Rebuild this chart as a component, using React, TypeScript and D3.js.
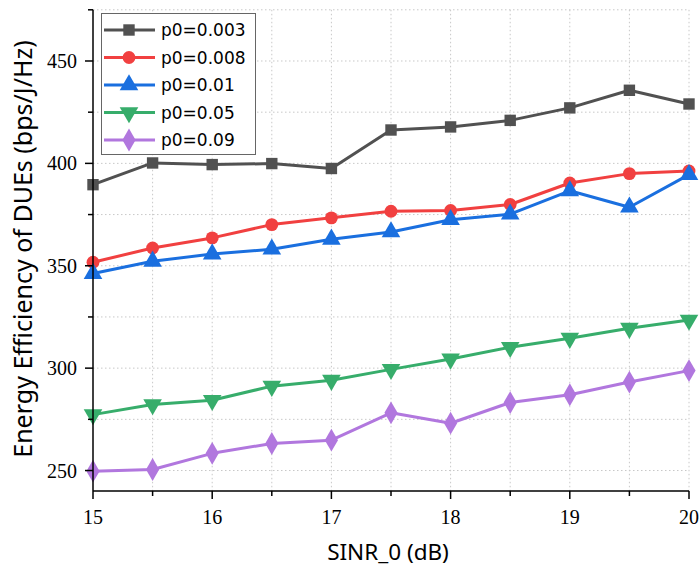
import React from 'react';
import * as d3 from 'd3';

const sinr = [15, 15.5, 16, 16.5, 17, 17.5, 18, 18.5, 19, 19.5, 20];
const seriesNames = ['p0=0.003', 'p0=0.008', 'p0=0.01', 'p0=0.05', 'p0=0.09'];
const p0003 = [389.6, 400.2, 399.4, 399.9, 397.5, 416.3, 417.8, 421, 427.1, 435.7, 429];
const p0008 = [351.7, 358.7, 363.6, 370.1, 373.4, 376.6, 377, 379.9, 390.4, 395, 396.3];
const p001 = [346.2, 352.2, 355.7, 358.1, 362.9, 366.5, 372.5, 375.2, 386.6, 378.6, 394.5];
const p005 = [277.3, 282.2, 284.3, 291.2, 294.1, 299.4, 304.5, 310.2, 314.6, 319.5, 323.5];
const p009 = [249.7, 250.5, 258.4, 263.2, 264.8, 278.2, 273.1, 283.2, 287, 293.2, 298.8];
const xTicks = [15, 16, 17, 18, 19, 20];
const yTicks = [250, 300, 350, 400, 450];

const colors = ['#515151', '#F14040', '#1A6FDF', '#37AD6B', '#B177DE'];
const symbols = [d3.symbolSquare, d3.symbolCircle, d3.symbolTriangle, d3.symbolTriangle, d3.symbolDiamond];
const symSizes = [130, 130, 150, 150, 150];
const rotations = [0, 0, 0, 180, 0];

const W = 700;
const H = 566;
const left = 93;
const right = 689;
const top = 9.8;
const bottom = 491;

export default function App() {
  const x = d3.scaleLinear().domain([15, 20]).range([left, right]);
  const y = d3.scaleLinear().domain([240, 475]).range([bottom, top]);
  const allSeries = [p0003, p0008, p001, p005, p009];
  const line = d3.line<number>().x((_, i) => x(sinr[i])).y((d) => y(d));
  const xGrid = d3.range(15.5, 20.01, 0.5);
  const yGrid = d3.range(250, 476, 25);
  const xMinor = d3.range(15.5, 20, 1);
  const yMinor = d3.range(275, 476, 50);
  const sans = 'Noto Sans, Open Sans, sans-serif';

  const marker = (k: number, cx: number, cy: number, key: string | number) => (
    <path
      key={key}
      d={d3.symbol(symbols[k], symSizes[k])() || ''}
      transform={`translate(${cx},${cy}) rotate(${rotations[k]})`}
      fill={colors[k]}
    />
  );

  return (
    <svg width={W} height={H} style={{ position: 'absolute', left: 0, top: 0, background: '#fff' }}>
      {/* grid */}
      <g stroke="#c8c8c8" strokeWidth={1} strokeDasharray="1.5,2.5">
        {xGrid.map((v) => (
          <line key={'gx' + v} x1={x(v)} x2={x(v)} y1={top} y2={bottom} />
        ))}
        {yGrid.map((v) => (
          <line key={'gy' + v} x1={left} x2={right} y1={y(v)} y2={y(v)} />
        ))}
      </g>

      {/* series */}
      {allSeries.map((s, k) => (
        <g key={k}>
          <path d={line(s) || ''} fill="none" stroke={colors[k]} strokeWidth={3} strokeLinejoin="round" />
          {s.map((v, i) => marker(k, x(sinr[i]), y(v), i))}
        </g>
      ))}

      {/* axes */}
      <g stroke="#000" strokeWidth={1.5}>
        <line x1={left} x2={left} y1={top} y2={bottom} />
        <line x1={left} x2={right} y1={bottom} y2={bottom} />
        {xTicks.map((v) => (
          <line key={'xt' + v} x1={x(v)} x2={x(v)} y1={bottom} y2={bottom + 8} />
        ))}
        {xMinor.map((v) => (
          <line key={'xm' + v} x1={x(v)} x2={x(v)} y1={bottom} y2={bottom + 5} />
        ))}
        {yTicks.map((v) => (
          <line key={'yt' + v} x1={left - 8} x2={left} y1={y(v)} y2={y(v)} />
        ))}
        {yMinor.map((v) => (
          <line key={'ym' + v} x1={left - 5} x2={left} y1={y(v)} y2={y(v)} />
        ))}
      </g>
      <g fontFamily="Liberation Serif" fontSize={20} fill="#000">
        {xTicks.map((v) => (
          <text key={'xl' + v} x={x(v)} y={bottom + 33} textAnchor="middle">
            {v}
          </text>
        ))}
        {yTicks.map((v) => (
          <text key={'yl' + v} x={left - 16} y={y(v) + 7} textAnchor="end">
            {v}
          </text>
        ))}
      </g>

      {/* axis titles */}
      <text x={388} y={560} textAnchor="middle" style={{ fontFamily: sans }} fontSize={22.5} fill="#000">
        SINR_0 (dB)
      </text>
      <text
        transform={`translate(32,249) rotate(-90)`}
        textAnchor="middle"
        style={{ fontFamily: sans }}
        fontSize={25}
        fill="#000"
      >
        Energy Efficiency of DUEs (bps/J/Hz)
      </text>

      {/* legend */}
      <rect x={101.5} y={13.5} width={154} height={141} fill="#fff" stroke="#666" strokeWidth={1} />
      {seriesNames.map((n, k) => {
        const cy = 30 + k * 27.5;
        return (
          <g key={n}>
            <line x1={104} x2={155} y1={cy} y2={cy} stroke={colors[k]} strokeWidth={3} />
            {marker(k, 129, cy, 'm')}
            <text x={161} y={cy + 6} style={{ fontFamily: 'DejaVu Sans, sans-serif' }} fontSize={17} fill="#000">
              {n}
            </text>
          </g>
        );
      })}
    </svg>
  );
}
